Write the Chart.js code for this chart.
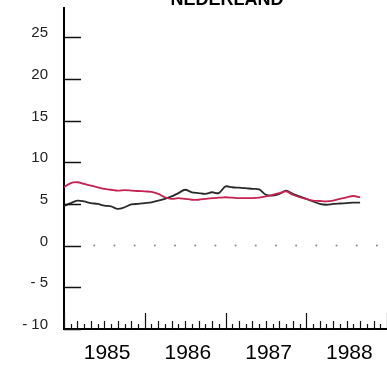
<!DOCTYPE html>
<html>
<head>
<meta charset="utf-8">
<script src="https://cdn.jsdelivr.net/npm/chart.js@4.4.0/dist/chart.umd.min.js"></script>
<style>
  html, body { margin: 0; padding: 0; background: #fff; }
  #wrap { position: relative; width: 387px; height: 365px; }
</style>
</head>
<body>
<div id="wrap"><canvas id="chart" width="387" height="365"></canvas></div>
<script>
// months since Jan 1985
const months = [];
for (let i = 0; i <= 44; i++) months.push(i);

// rode lijn
const redSeries = [7.0, 7.5, 7.6, 7.4, 7.2, 7.0, 6.8, 6.7, 6.6, 6.65, 6.6, 6.55,
  6.5, 6.45, 6.2, 5.8, 5.6, 5.7, 5.6, 5.5, 5.5, 5.6, 5.7, 5.75,
  5.8, 5.75, 5.7, 5.7, 5.7, 5.75, 5.9, 6.1, 6.3, 6.5, 6.1, 5.8,
  5.6, 5.4, 5.35, 5.3, 5.4, 5.6, 5.8, 5.95, 5.8];

// zwarte lijn
const blackSeries = [4.75, 5.1, 5.4, 5.3, 5.1, 5.0, 4.8, 4.7, 4.4, 4.6, 4.95, 5.0,
  5.1, 5.2, 5.4, 5.6, 5.9, 6.3, 6.7, 6.4, 6.3, 6.2, 6.4, 6.3,
  7.1, 7.0, 6.95, 6.9, 6.8, 6.75, 6.1, 6.0, 6.2, 6.6, 6.2, 5.9,
  5.6, 5.3, 5.0, 4.9, 5.0, 5.05, 5.1, 5.15, 5.15];

const yTickValues = [25, 20, 15, 10, 5, 0, -5, -10];
const yTickLabels = ['25', '20', '15', '10', '5', '0', '- 5', '- 10'];
const years = ['1985', '1986', '1987', '1988'];
const yearCenters = [6.4, 18.4, 30.4, 42.4];

// gestippelde nullijn
const zeroDots = [];
for (let m = 4.5; m <= 47; m += 3) zeroDots.push({ x: m, y: 0 });

const toPoints = arr => arr.map((v, i) => ({ x: months[i], y: v }));

const tickPlugin = {
  id: 'innerTicks',
  afterDatasetsDraw(chart) {
    const { ctx, scales: { x, y } } = chart;
    ctx.save();
    ctx.strokeStyle = '#111';
    ctx.lineWidth = 1.5;
    // y ticks pointing inward
    yTickValues.forEach(v => {
      const py = Math.round(y.getPixelForValue(v)) + 0.5;
      ctx.beginPath();
      ctx.moveTo(x.left, py);
      ctx.lineTo(x.left + 17, py);
      ctx.stroke();
    });
    // month ticks on the x axis
    ctx.lineWidth = 1.2;
    for (let m = 0; m <= 48; m++) {
      const px = Math.round(x.getPixelForValue(m)) + 0.5;
      const h = m % 12 === 0 ? 16 : (m % 2 === 0 ? 8 : 5);
      ctx.beginPath();
      ctx.moveTo(px, y.bottom);
      ctx.lineTo(px, y.bottom - h);
      ctx.stroke();
    }
    // titel, bovenkant valt buiten beeld
    ctx.fillStyle = '#000';
    ctx.font = 'bold 18px "Liberation Sans", Arial, sans-serif';
    ctx.textAlign = 'center';
    ctx.textBaseline = 'alphabetic';
    ctx.fillText('NEDERLAND', 227, 5);
    ctx.restore();
  }
};

new Chart(document.getElementById('chart'), {
  type: 'line',
  data: {
    datasets: [
      {
        label: 'rood',
        data: toPoints(redSeries),
        borderColor: '#c8204f',
        borderWidth: 1.8,
        pointRadius: 0,
        tension: 0.3
      },
      {
        label: 'zwart',
        data: toPoints(blackSeries),
        borderColor: '#2a2a2a',
        borderWidth: 1.8,
        pointRadius: 0,
        tension: 0.3
      },
      {
        label: 'nul',
        data: zeroDots,
        showLine: false,
        pointRadius: 1,
        pointBackgroundColor: '#888',
        pointBorderWidth: 0
      }
    ]
  },
  options: {
    responsive: false,
    animation: false,
    layout: { autoPadding: false, padding: { top: 8, right: 0, bottom: 0, left: 0 } },
    plugins: {
      legend: { display: false },
      tooltip: { enabled: false }
    },
    scales: {
      x: {
        type: 'linear',
        min: 0,
        max: 48,
        grid: { display: false, drawTicks: false },
        border: { display: true, color: '#000', width: 2 },
        afterBuildTicks: scale => {
          scale.ticks = yearCenters.map(v => ({ value: v }));
        },
        afterFit: scale => {
          scale.height = 36;
          scale.paddingLeft = 0;
          scale.paddingRight = 0;
        },
        ticks: {
          padding: 12,
          maxRotation: 0,
          color: '#000',
          font: { size: 21, family: '"Liberation Sans", Arial, sans-serif' },
          callback: (value) => years[yearCenters.indexOf(value)]
        }
      },
      y: {
        min: -10,
        max: 28.5,
        grid: { display: false, drawTicks: false },
        border: { display: true, color: '#000', width: 2 },
        afterBuildTicks: scale => {
          scale.ticks = yTickValues.map(v => ({ value: v }));
        },
        afterFit: scale => {
          scale.width = 64;
          scale.paddingTop = 0;
          scale.paddingBottom = 0;
        },
        ticks: {
          padding: 16,
          labelOffset: -4,
          color: '#222',
          font: { size: 15, family: '"Liberation Sans", Arial, sans-serif' },
          callback: (value) => yTickLabels[yTickValues.indexOf(value)]
        }
      }
    }
  },
  plugins: [tickPlugin]
});
</script>
</body>
</html>
